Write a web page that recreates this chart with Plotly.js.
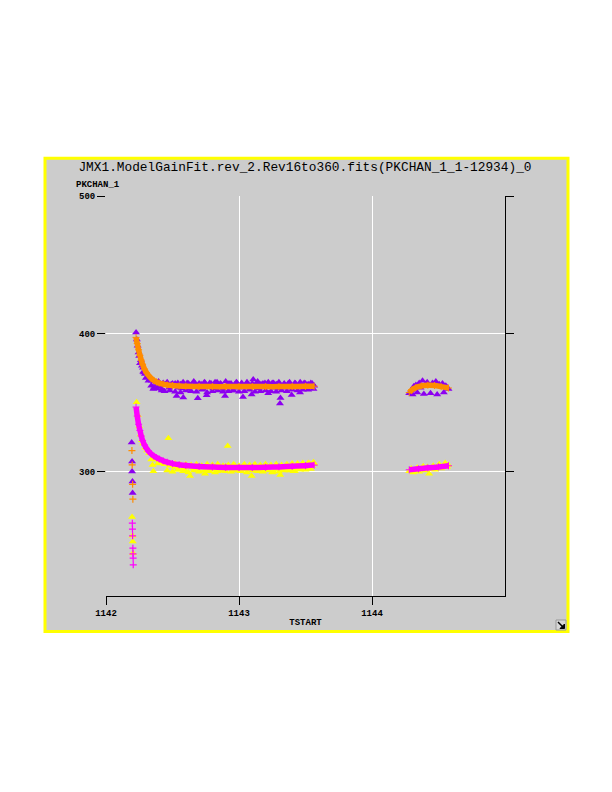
<!DOCTYPE html>
<html>
<head>
<meta charset="utf-8">
<script src="https://cdn.plot.ly/plotly-3.0.1.min.js"></script>
<style>html,body{margin:0;padding:0;background:#fff;}</style>
</head>
<body>
<div id="chart" style="width:612px;height:792px;"></div>
<script>
// ---- data ----
const chartTitle = "JMX1.ModelGainFit.rev_2.Rev16to360.fits(PKCHAN_1_1-12934)_0";
const xTitle = "TSTART";
const yTitle = "PKCHAN_1";
const xTickVals = [1142, 1143, 1144];
const yTickVals = [300, 400, 500];

// upper measured series (purple triangles)
const upperDataX = [1142.193,1142.196,1142.196,1142.199,1142.200,
 1142.226,1142.232,1142.238,1142.245,1142.250,1142.256,1142.262,1142.270,1142.278,1142.285,1142.293,1142.300,1142.310,1142.318,1142.326,1142.336,1142.345,1142.356,1142.365,1142.375,1142.385,1142.395,1142.405,1142.419,1142.430,1142.445,1142.460,1142.475,1142.490,1142.505,1142.520,1142.531,1142.545,1142.560,1142.570,1142.581,1142.595,1142.610,1142.625,1142.640,1142.655,1142.670,1142.690,1142.700,1142.715,1142.730,1142.745,1142.757,1142.775,1142.790,1142.805,1142.820,1142.835,1142.850,1142.865,1142.880,1142.895,1142.910,1142.925,1142.940,1142.955,1142.970,1142.985,1143.000,1143.015,1143.030,1143.045,1143.060,1143.075,1143.095,1143.107,1143.120,1143.135,1143.150,1143.165,1143.180,1143.195,1143.210,1143.220,1143.235,1143.250,1143.265,1143.280,1143.295,1143.308,1143.312,1143.325,1143.340,1143.355,1143.370,1143.385,1143.396,1143.410,1143.425,1143.440,1143.459,1143.475,1143.490,1143.505,1143.520,1143.535,1143.550,1143.565,
 1144.280,1144.295,1144.305,1144.315,1144.330,1144.340,1144.355,1144.365,1144.380,1144.390,1144.405,1144.415,1144.430,1144.440,1144.455,1144.465,1144.480,1144.490,1144.505,1144.515,1144.530,1144.540,1144.555,1144.565,1144.575];
const upperDataY = [321.2,307.5,300.2,293.0,284.6,
 401.0,396.0,391.5,386.5,384.0,378.8,381.0,377.0,375.5,372.0,371.0,371.5,369.0,369.5,366.7,367.0,366.0,360.0,365.5,364.5,363.0,365.5,364.0,359.0,364.5,363.0,364.5,361.0,363.5,362.0,364.0,355.0,361.0,363.5,360.5,354.0,362.0,364.5,360.0,363.0,361.5,364.0,353.4,361.0,363.5,360.0,364.5,355.5,362.0,364.0,360.5,363.0,365.0,361.5,363.5,360.0,355.0,362.5,364.0,361.0,359.0,363.5,364.5,361.0,363.0,354.3,362.0,364.5,361.0,356.0,367.0,362.0,364.0,360.5,363.5,361.5,364.5,362.0,357.0,363.0,364.5,361.0,363.5,360.5,349.5,353.5,361.0,363.5,362.0,364.0,361.0,355.8,362.5,364.0,361.5,357.5,363.0,364.5,362.0,363.5,361.5,364.0,362.5,
 357.0,359.0,356.0,362.0,363.0,357.5,364.5,361.0,366.0,356.5,363.5,365.0,362.0,357.0,364.5,363.0,365.5,356.0,363.5,362.0,364.0,357.5,362.5,361.0,360.0];
// further purple points filling the band round the fit
const upperDataX2 = [1142.280,1142.300,1142.320,1142.340,1142.360,1142.380,1142.400,1142.420,
 1142.440,1142.460,1142.480,1142.500,1142.520,1142.540,1142.560,1142.580,1142.600,1142.620,1142.640,1142.660,1142.680,1142.700,1142.720,1142.740,1142.760,1142.780,1142.800,1142.820,1142.840,1142.860,1142.880,1142.900,1142.920,1142.940,1142.960,1142.980,1143.000,1143.020,1143.040,1143.060,1143.080,1143.100,1143.120,1143.140,1143.160,1143.180,1143.200,1143.220,1143.240,1143.260,1143.280,1143.300,1143.320,1143.340,1143.360,1143.380,1143.400,1143.420,1143.440,1143.460,1143.480,1143.500,1143.520,1143.540,1143.560];
const upperDataY2 = [372.5,368.0,366.0,362.5,361.0,360.5,361.5,360.0,
 358.5,365.0,359.0,364.0,358.0,364.5,357.5,365.0,359.0,364.0,358.5,365.5,358.0,364.0,359.5,365.0,357.5,364.5,358.5,365.0,359.0,364.0,358.0,365.5,358.5,364.0,359.0,365.0,358.0,364.5,358.5,365.0,359.5,364.0,358.0,365.5,358.5,364.0,359.0,365.0,358.5,364.5,358.0,365.0,359.0,364.0,358.5,365.0,359.5,364.5,359.0,365.0,359.5,364.0,359.5,364.5,360.0];

// upper fit (orange crosses)
const upperFitX = [1142.226,1142.235,1142.245,1142.255,1142.265,1142.275,1142.290,1142.305,1142.320,1142.340,1142.360,1142.380,1142.400,1142.430,1142.460,1142.500,1142.550,1142.600,1142.700,1142.800,1142.900,1143.000,1143.100,1143.200,1143.300,1143.400,1143.500,1143.565];
const upperFitY = [397.5,393.0,388.5,384.5,381.0,378.0,374.5,371.8,369.8,367.8,366.3,365.2,364.4,363.6,363.0,362.6,362.3,362.1,361.9,361.8,361.8,361.8,361.8,361.8,361.8,361.9,362.0,362.1];
const upperFit2X = [1144.280,1144.300,1144.330,1144.370,1144.420,1144.470,1144.520,1144.575];
const upperFit2Y = [357.5,359.5,361.2,362.3,362.8,362.6,361.8,360.8];
const upperFitEarlyX = [1142.195,1142.197,1142.200,1142.202];
const upperFitEarlyY = [315.4,305.0,291.0,280.2];

// lower measured series (yellow triangles)
const lowerDataX = [1142.196,1142.199,1142.201,1142.203,
 1142.230,1142.240,1142.250,1142.260,1142.270,1142.280,1142.295,1142.310,1142.325,1142.340,1142.350,1142.356,1142.375,1142.390,1142.400,1142.420,1142.440,1142.455,1142.469,1142.480,1142.500,1142.520,1142.540,1142.560,1142.580,1142.600,1142.615,1142.632,1142.660,1142.680,1142.700,1142.720,1142.744,1142.760,1142.780,1142.800,1142.820,1142.840,1142.860,1142.880,1142.900,1142.915,1142.930,1142.950,1142.970,1142.990,1143.010,1143.030,1143.050,1143.070,1143.095,1143.110,1143.130,1143.150,1143.170,1143.190,1143.210,1143.230,1143.250,1143.270,1143.290,1143.310,1143.330,1143.350,1143.370,1143.390,1143.410,1143.430,1143.450,1143.470,1143.490,1143.510,1143.530,1143.550,1143.565,
 1144.280,1144.295,1144.310,1144.325,1144.340,1144.355,1144.370,1144.385,1144.400,1144.415,1144.430,1144.445,1144.460,1144.475,1144.490,1144.505,1144.520,1144.535,1144.550,1144.565,1144.575];
const lowerDataY = [267.2,253.6,249.5,241.0,
 350.5,341.0,333.0,327.0,323.0,320.5,317.5,315.5,313.5,309.0,305.0,300.5,309.0,306.0,308.0,306.5,305.5,307.0,324.4,304.5,305.0,303.5,301.5,305.0,302.5,300.5,303.5,297.0,302.5,304.0,301.0,303.5,298.6,303.0,301.5,304.5,302.0,300.5,303.5,301.0,304.0,318.8,303.5,301.0,304.5,302.0,300.5,304.0,301.5,302.5,297.0,304.5,301.0,303.5,300.5,304.0,302.0,303.5,299.5,304.0,302.0,297.8,301.5,304.5,302.0,303.5,300.5,304.5,302.5,305.0,303.0,304.5,306.0,304.0,306.0,
 300.5,302.5,299.5,301.0,303.0,300.0,302.5,304.0,301.0,303.5,298.6,302.0,304.5,301.5,303.0,305.5,302.5,304.0,306.5,303.5,305.0];
// further yellow points filling the band round the fit
const lowerDataX2 = [1142.440,1142.460,1142.480,1142.500,1142.520,1142.540,1142.560,1142.580,1142.600,1142.620,1142.640,1142.660,1142.680,1142.700,1142.720,1142.740,1142.760,1142.780,1142.800,1142.820,1142.840,1142.860,1142.880,1142.900,1142.920,1142.940,1142.960,1142.980,1143.000,1143.020,1143.040,1143.060,1143.080,1143.100,1143.120,1143.140,1143.160,1143.180,1143.200,1143.220,1143.240,1143.260,1143.280,1143.300,1143.320,1143.340,1143.360,1143.380,1143.400,1143.420,1143.440,1143.460,1143.480,1143.500,1143.520,1143.540,1143.560];
const lowerDataY2 = [306.5,301.0,305.5,300.0,306.0,301.5,305.0,300.5,305.5,299.5,305.0,301.0,305.5,300.0,304.5,301.0,305.5,300.5,305.0,299.5,305.5,301.0,304.5,300.5,305.0,300.0,305.5,301.0,304.5,300.5,305.5,299.5,305.0,301.0,305.5,300.5,305.0,300.0,305.5,301.0,305.0,300.5,305.5,300.0,305.0,301.0,305.5,301.0,306.0,300.5,306.0,301.5,306.5,301.5,306.5,302.0,307.0];

// lower fit (magenta crosses)
const lowerFitX = [1142.226,1142.235,1142.245,1142.255,1142.265,1142.275,1142.290,1142.305,1142.320,1142.340,1142.360,1142.380,1142.400,1142.430,1142.460,1142.500,1142.550,1142.600,1142.700,1142.800,1142.900,1143.000,1143.100,1143.200,1143.300,1143.400,1143.500,1143.565];
const lowerFitY = [347.0,340.5,334.5,330.0,326.0,322.8,319.5,317.0,315.0,313.0,311.5,310.3,309.3,308.0,307.0,306.0,305.2,304.6,303.9,303.5,303.2,303.1,303.1,303.3,303.6,304.0,304.5,304.9];
const lowerFit2X = [1144.280,1144.350,1144.420,1144.500,1144.575];
const lowerFit2Y = [301.5,302.2,302.9,303.6,304.4];
const lowerFitEarlyX = [1142.198,1142.199,1142.200,1142.202,1142.203,1142.204,1142.205];
const lowerFitEarlyY = [262.8,258.5,253.6,244.7,240.6,237.5,232.6];

// ---- styling ----
const purple = '#8c00f0', orange = '#ff8c00', yellow = '#ffff00', magenta = '#ff00ff';
const mono = 'Liberation Mono, Courier New, monospace';

function tri(x, y, c) {
  return {x: x, y: y, type: 'scatter', mode: 'markers', showlegend: false, hoverinfo: 'skip',
    marker: {symbol: 'triangle-up', size: 7, color: c, line: {width: 0}}};
}
function fitLine(x, y, c) {
  return {x: x, y: y, type: 'scatter', mode: 'lines+markers', showlegend: false, hoverinfo: 'skip',
    line: {color: c, width: 5.5, shape: 'spline'},
    marker: {symbol: 'cross-thin-open', size: 5, color: c, line: {color: c, width: 1}}};
}
function crosses(x, y, c) {
  return {x: x, y: y, type: 'scatter', mode: 'markers', showlegend: false, hoverinfo: 'skip',
    marker: {symbol: 'cross-thin-open', size: 5, color: c, line: {color: c, width: 1.2}}};
}

const traces = [
  tri(upperDataX, upperDataY, purple),
  tri(upperDataX2, upperDataY2, purple),
  fitLine(upperFitX, upperFitY, orange),
  fitLine(upperFit2X, upperFit2Y, orange),
  crosses(upperFitEarlyX, upperFitEarlyY, orange),
  tri(lowerDataX, lowerDataY, yellow),
  tri(lowerDataX2, lowerDataY2, yellow),
  fitLine(lowerFitX, lowerFitY, magenta),
  fitLine(lowerFit2X, lowerFit2Y, magenta),
  crosses(lowerFitEarlyX, lowerFitEarlyY, magenta),
  // right-hand axis carrier (no marks)
  {x: [], y: [], yaxis: 'y2', type: 'scatter', mode: 'markers', showlegend: false, hoverinfo: 'skip'}
];

const layout = {
  width: 612, height: 792,
  margin: {l: 106, r: 107, t: 196, b: 196, pad: 0},
  paper_bgcolor: '#ffffff',
  plot_bgcolor: '#cccccc',
  showlegend: false,
  title: {text: chartTitle, font: {family: mono, size: 12.8, color: '#000'},
          xref: 'paper', x: 0.4987, xanchor: 'center', yref: 'container', y: 1 - 167/792, yanchor: 'middle'},
  xaxis: {
    range: [1142, 1145], tickvals: xTickVals, ticktext: xTickVals.map(String),
    showgrid: true, gridcolor: '#ffffff', gridwidth: 1, zeroline: false,
    showline: true, linecolor: '#000', linewidth: 1,
    ticks: 'outside', ticklen: 8, tickwidth: 1, tickcolor: '#000',
    tickfont: {family: mono, size: 9, color: '#000', weight: 'bold'},
    title: {text: xTitle, font: {family: mono, size: 9, color: '#000', weight: 'bold'}, standoff: 0},
    automargin: false
  },
  yaxis: {
    range: [210, 500], tickvals: yTickVals, ticktext: yTickVals.map(String),
    showgrid: true, gridcolor: '#ffffff', gridwidth: 1, zeroline: false,
    showline: false,
    ticks: 'outside', ticklen: 8, tickwidth: 1, tickcolor: '#000',
    tickfont: {family: mono, size: 9, color: '#000', weight: 'bold'},
    automargin: false
  },
  yaxis2: {
    overlaying: 'y', side: 'right', range: [210, 500], tickvals: yTickVals,
    showgrid: false, zeroline: false, showticklabels: false,
    showline: true, linecolor: '#000', linewidth: 1,
    ticks: 'outside', ticklen: 8, tickwidth: 1, tickcolor: '#000',
    automargin: false
  },
  shapes: [
    {type: 'rect', xref: 'paper', yref: 'paper', layer: 'below',
     x0: -0.1529, x1: 1.1579, y0: -0.0888, y1: 1.0943,
     fillcolor: '#cccccc', line: {color: '#ffff00', width: 3}},
    // resize icon
    {type: 'rect', xref: 'paper', yref: 'paper', layer: 'above',
     x0: (556-106)/399, x1: (566-106)/399, y0: (596-630)/400, y1: (596-620)/400,
     fillcolor: '#d6d6d6', line: {color: '#999999', width: 1}},
    {type: 'line', xref: 'paper', yref: 'paper', layer: 'above',
     x0: (558-106)/399, x1: (564-106)/399, y0: (596-622)/400, y1: (596-628)/400,
     line: {color: '#000', width: 1.5}},
    {type: 'path', xref: 'paper', yref: 'paper', layer: 'above',
     path: 'M ' + ((560-106)/399) + ' ' + ((596-628.5)/400) + ' L ' + ((564.5-106)/399) + ' ' + ((596-628.5)/400) + ' L ' + ((564.5-106)/399) + ' ' + ((596-624)/400) + ' Z',
     fillcolor: '#000', line: {color: '#000', width: 1}}
  ],
  annotations: [
    {text: yTitle, xref: 'paper', yref: 'paper', x: (74-106)/399, y: (596-185)/400,
     xanchor: 'left', yanchor: 'middle', showarrow: false,
     font: {family: mono, size: 9, color: '#000', weight: 'bold'}}
  ]
};

Plotly.newPlot('chart', traces, layout, {staticPlot: true, displayModeBar: false});
</script>
</body>
</html>
